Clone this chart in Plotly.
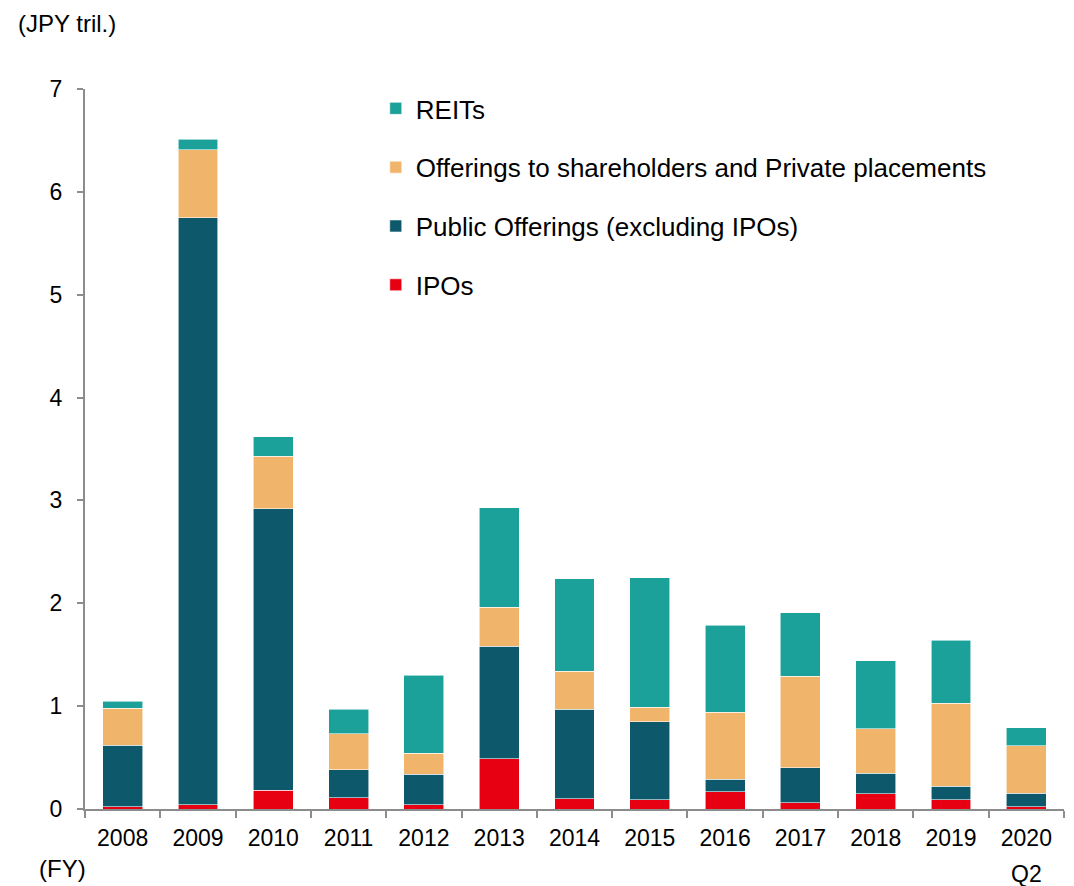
import plotly.graph_objects as go

years = ["2008", "2009", "2010", "2011", "2012", "2013", "2014",
         "2015", "2016", "2017", "2018", "2019", "2020"]

ipos = [0.02, 0.04, 0.18, 0.11, 0.04, 0.49, 0.10, 0.09, 0.17, 0.06, 0.15, 0.09, 0.02]
public_offerings = [0.60, 5.71, 2.74, 0.27, 0.30, 1.09, 0.87, 0.76, 0.12, 0.34, 0.20, 0.13, 0.135]
offerings_private = [0.36, 0.66, 0.51, 0.35, 0.20, 0.38, 0.37, 0.14, 0.65, 0.89, 0.43, 0.81, 0.46]
reits = [0.07, 0.10, 0.19, 0.24, 0.76, 0.97, 0.90, 1.26, 0.845, 0.62, 0.66, 0.61, 0.175]

# stacking order bottom -> top, legend rank top -> bottom
series = [
    ("IPOs", ipos, "#E60012", 4),
    ("Public Offerings (excluding IPOs)", public_offerings, "#0D596B", 3),
    ("Offerings to shareholders and Private placements", offerings_private, "#F1B46B", 2),
    ("REITs", reits, "#1BA19A", 1),
]

font = "Arial, Liberation Sans, sans-serif"

fig = go.Figure()
for name, vals, col, rank in series:
    fig.add_trace(go.Bar(x=years, y=vals, name=name, legendgroup=name, legendrank=rank,
                         marker=dict(color=col, line=dict(color="rgba(255,255,255,0.7)", width=0.8))))

# page body has an 8px margin, so the figure is a bit smaller than the window
fig.update_layout(
    barmode="stack",
    bargap=0.47,
    width=1066, height=878,
    margin=dict(l=77, r=10, t=81, b=77),
    plot_bgcolor="white", paper_bgcolor="white",
    font=dict(family=font, size=23, color="black"),
    legend=dict(x=0.297, y=1.0056, xanchor="left", yanchor="top",
                traceorder="grouped", tracegroupgap=22,
                font=dict(size=26), bgcolor="rgba(0,0,0,0)"),
)

fig.update_xaxes(type="category", range=[-0.5, len(years) - 0.5], automargin=False,
                 showline=True, linecolor="#8c8c8c", linewidth=2,
                 ticks="outside", tickson="boundaries", ticklen=7, tickcolor="#8c8c8c",
                 tickwidth=2, tickfont=dict(size=23), ticklabelstandoff=7, tickangle=0)
fig.update_yaxes(range=[0, 7], dtick=1, showgrid=False, zeroline=False, automargin=False,
                 showline=True, linecolor="#8c8c8c", linewidth=2,
                 ticks="outside", ticklen=6, tickcolor="#8c8c8c", tickwidth=2,
                 tickfont=dict(size=23), ticklabelstandoff=10)

fig.add_annotation(text="(JPY tril.)", xref="paper", yref="paper", x=-0.069, y=1.111,
                   xanchor="left", yanchor="top", borderpad=0, showarrow=False,
                   font=dict(size=24))
fig.add_annotation(text="(FY)", xref="paper", yref="paper", x=-0.049, y=-0.082,
                   xanchor="left", yanchor="middle", showarrow=False, font=dict(size=24))
fig.add_annotation(text="Q2", xref="x", yref="paper", x=len(years) - 1, y=-0.09,
                   xanchor="center", yanchor="middle", showarrow=False, font=dict(size=23))

fig.write_html("out.html")
